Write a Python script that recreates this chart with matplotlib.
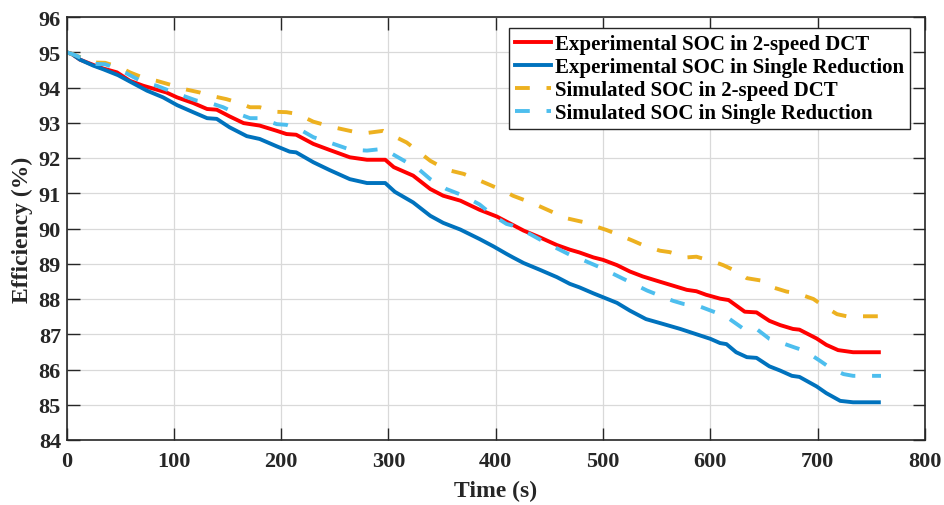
import matplotlib
matplotlib.use('Agg')
import matplotlib.pyplot as plt

# experimental SOC, 2-speed DCT
t_exp_dct = [0, 5, 12.6, 25, 34, 47, 59, 71.5, 84, 93, 103, 118, 131, 140, 152, 165, 180, 196, 205, 214,
             230, 245, 264, 280, 297, 305, 323, 339, 351, 367, 385, 401, 416, 426, 441, 457, 469, 478, 491, 500,
             513, 525, 537, 553, 565, 578, 587, 596, 609, 617, 632, 643, 655, 665, 677, 683, 699, 708, 719, 733, 757]
soc_exp_dct = [95.0, 94.95, 94.79, 94.64, 94.54, 94.43, 94.19, 94.05, 93.94, 93.86, 93.72, 93.56, 93.39, 93.37,
               93.18, 92.99, 92.92, 92.77, 92.68, 92.66, 92.40, 92.23, 92.02, 91.95, 91.95, 91.74, 91.50, 91.12,
               90.93, 90.79, 90.53, 90.34, 90.10, 89.94, 89.75, 89.53, 89.40, 89.32, 89.18, 89.11, 88.96, 88.78,
               88.64, 88.49, 88.38, 88.26, 88.22, 88.12, 88.01, 87.97, 87.64, 87.62, 87.38, 87.26, 87.15, 87.13,
               86.88, 86.70, 86.55, 86.49, 86.49]

# experimental SOC, single reduction
t_exp_sr = [0, 5, 12.6, 25, 34, 48, 59, 75, 90, 103, 118, 131, 140, 152, 168, 180, 196, 208, 214, 230, 245,
            264, 280, 297, 306, 323, 339, 351, 367, 385, 398, 410, 416, 426, 441, 457, 469, 478, 491, 500, 513,
            525, 540, 555, 572, 587, 600, 609, 615, 624, 634, 643, 655, 665, 676, 683, 699, 708, 721, 733, 757]
soc_exp_sr = [95.0, 94.95, 94.79, 94.62, 94.52, 94.35, 94.17, 93.91, 93.72, 93.50, 93.30, 93.13, 93.11, 92.87,
              92.62, 92.54, 92.33, 92.18, 92.16, 91.88, 91.66, 91.40, 91.29, 91.29, 91.04, 90.74, 90.36, 90.16,
              89.97, 89.70, 89.49, 89.28, 89.18, 89.02, 88.83, 88.62, 88.43, 88.33, 88.16, 88.05, 87.89, 87.67,
              87.43, 87.30, 87.15, 87.00, 86.87, 86.75, 86.72, 86.49, 86.35, 86.33, 86.09, 85.97, 85.82, 85.79,
              85.52, 85.33, 85.11, 85.07, 85.07]

# simulated SOC, 2-speed DCT
t_sim_dct = [0, 8, 25, 36, 50, 59, 73, 84, 100, 109, 124, 134, 149, 159, 171, 180, 196, 205, 215, 230, 249,
             270, 280, 295, 301, 317, 323, 339, 354, 370, 385, 395, 410, 416, 435, 457, 466, 482, 491, 503, 513,
             528, 537, 553, 562, 578, 587, 603, 612, 626, 634, 648, 655, 671, 680, 696, 705, 718, 727, 757]
soc_sim_dct = [95.0, 94.92, 94.71, 94.70, 94.57, 94.43, 94.26, 94.19, 94.05, 93.96, 93.86, 93.77, 93.67, 93.58,
               93.44, 93.44, 93.31, 93.30, 93.25, 93.03, 92.87, 92.73, 92.71, 92.77, 92.68, 92.44, 92.30, 91.92,
               91.67, 91.55, 91.36, 91.23, 91.03, 90.93, 90.71, 90.41, 90.29, 90.18, 90.08, 89.96, 89.84, 89.65,
               89.53, 89.37, 89.33, 89.18, 89.20, 89.06, 88.96, 88.76, 88.59, 88.52, 88.36, 88.21, 88.17, 88.00,
               87.81, 87.57, 87.51, 87.51]

# simulated SOC, single reduction
t_sim_sr = [0, 8, 25, 36, 50, 59, 71.5, 84, 100, 121, 134, 146, 155, 171, 180, 196, 205, 218, 230, 246, 264,
            280, 295, 301, 317, 326, 339, 354, 370, 385, 398, 410, 416, 426, 432, 447, 472, 478, 497, 519, 541,
            565, 575, 590, 609, 618, 632, 643, 655, 665, 679, 688, 702, 711, 724, 733, 759]
soc_sim_sr = [95.0, 94.92, 94.67, 94.66, 94.50, 94.35, 94.15, 94.05, 93.86, 93.63, 93.56, 93.44, 93.31, 93.13,
              93.13, 92.96, 92.94, 92.80, 92.59, 92.43, 92.24, 92.21, 92.26, 92.16, 91.88, 91.74, 91.40, 91.12,
              90.93, 90.68, 90.36, 90.13, 90.08, 89.94, 89.84, 89.59, 89.21, 89.15, 88.90, 88.57, 88.24, 87.95,
              87.86, 87.79, 87.57, 87.43, 87.13, 87.15, 86.87, 86.77, 86.62, 86.53, 86.25, 86.06, 85.87, 85.82,
              85.82]

x_ticks = [0, 100, 200, 300, 400, 500, 600, 700, 800]
y_ticks = [84, 85, 86, 87, 88, 89, 90, 91, 92, 93, 94, 95, 96]

plt.rcParams['font.family'] = 'Liberation Serif'
plt.rcParams['font.weight'] = 'bold'
dark = '#262626'

fig = plt.figure(figsize=(9.44, 5.06), dpi=100)
ax = fig.add_axes([66.5 / 944, 1 - 441 / 506, 858.5 / 944, 423 / 506])

lw = 2.8
ax.plot(t_exp_dct, soc_exp_dct, color='#FF0000', lw=lw, label='Experimental SOC in 2-speed DCT')
ax.plot(t_exp_sr, soc_exp_sr, color='#0072BD', lw=lw, label='Experimental SOC in Single Reduction')
ax.plot(t_sim_dct, soc_sim_dct, color='#EDB120', lw=lw, dashes=(3.8, 4.3), label='Simulated SOC in 2-speed DCT')
ax.plot(t_sim_sr, soc_sim_sr, color='#4DBEEE', lw=lw, dashes=(3.8, 4.3), label='Simulated SOC in Single Reduction')

ax.set_xlim(0, 800)
ax.set_ylim(84, 96)
ax.set_xticks(x_ticks)
ax.set_yticks(y_ticks)
ax.grid(True, color='#d9d9d9', lw=0.9)
ax.set_axisbelow(True)
ax.tick_params(direction='in', length=9, width=1, top=True, right=True, colors=dark, labelsize=16)
ax.tick_params(axis='x', pad=8)
ax.tick_params(axis='y', pad=4)
for s in ax.spines.values():
    s.set_color(dark)
    s.set_linewidth(1.2)

ax.set_xlabel('Time (s)', fontsize=17, fontweight='bold', color=dark, labelpad=6)
ax.set_ylabel('Efficiency (%)', fontsize=17, fontweight='bold', color=dark, labelpad=4)

leg = ax.legend(loc='upper right', bbox_to_anchor=(0.9825, 0.974), borderaxespad=0,
                prop={'size': 15, 'weight': 'bold'}, fancybox=False, framealpha=1,
                edgecolor=dark, handlelength=1.75, handletextpad=0.15, labelspacing=0.14,
                borderpad=0.3)
leg.get_frame().set_linewidth(1.0)

fig.savefig('out.png', dpi=100)
